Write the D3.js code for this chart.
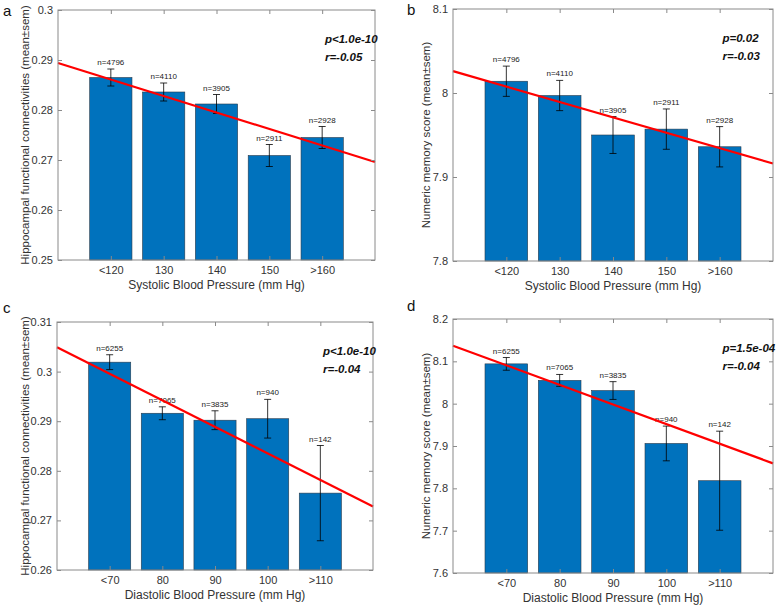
<!DOCTYPE html>
<html><head><meta charset="utf-8">
<script src="https://cdn.jsdelivr.net/npm/d3@7"></script>
<style>body{margin:0;background:#fff;}svg{display:block;font-family:Arial,"Liberation Sans",sans-serif;}</style>
</head><body>
<script>
// ---- data ----
const sysCats = ["<120","130","140","150",">160"];
const diaCats = ["<70","80","90","100",">110"];
const sysN = [4796,4110,3905,2911,2928];
const diaN = [6255,7065,3835,940,142];

const aMean = [0.2865,0.2836,0.2812,0.2709,0.2745];
const aSem  = [0.0017,0.0018,0.0019,0.0022,0.0022];
const aFit  = [0.2894,0.2696];           // fitted line at x=0 and x=6
const aTicks = [0.25,0.26,0.27,0.28,0.29,0.30];

const bMean = [8.014,7.997,7.950,7.957,7.936];
const bSem  = [0.018,0.018,0.022,0.024,0.024];
const bFit  = [8.026,7.916];
const bTicks = [7.8,7.9,8.0,8.1];

const cMean = [0.3019,0.2916,0.2902,0.2905,0.2755];
const cSem  = [0.0015,0.0013,0.0019,0.0039,0.0096];
const cFit  = [0.3049,0.2728];
const cTicks = [0.26,0.27,0.28,0.29,0.30,0.31];

const dMean = [8.094,8.055,8.031,7.906,7.818];
const dSem  = [0.015,0.014,0.021,0.041,0.117];
const dFit  = [8.137,7.859];
const dTicks = [7.6,7.7,7.8,7.9,8.0,8.1,8.2];

const panels = [
  {letter:"a", cats:sysCats, n:sysN, mean:aMean, sem:aSem, fit:aFit, ticks:aTicks, dom:[0.25,0.30],
   ylab:"Hippocampal functional connectivities (mean\u00B1sem)", xlab:"Systolic Blood Pressure (mm Hg)",
   p:"p<1.0e-10", r:"r=-0.05", box:[58,10,375,260], lx:3, ly:16, ylx:26},
  {letter:"b", cats:sysCats, n:sysN, mean:bMean, sem:bSem, fit:bFit, ticks:bTicks, dom:[7.8,8.1],
   ylab:"Numeric memory score (mean\u00B1sem)", xlab:"Systolic Blood Pressure (mm Hg)",
   p:"p=0.02", r:"r=-0.03", box:[453,9,773,261], lx:407, ly:15, ylx:427},
  {letter:"c", cats:diaCats, n:diaN, mean:cMean, sem:cSem, fit:cFit, ticks:cTicks, dom:[0.26,0.31],
   ylab:"Hippocampal functional connectivities (mean\u00B1sem)", xlab:"Diastolic Blood Pressure (mm Hg)",
   p:"p<1.0e-10", r:"r=-0.04", box:[57,322,373,570], lx:3, ly:313, ylx:26},
  {letter:"d", cats:diaCats, n:diaN, mean:dMean, sem:dSem, fit:dFit, ticks:dTicks, dom:[7.6,8.2],
   ylab:"Numeric memory score (mean\u00B1sem)", xlab:"Diastolic Blood Pressure (mm Hg)",
   p:"p=1.5e-04", r:"r=-0.04", box:[453,319,773,573], lx:407, ly:311, ylx:427}
];

const W=777,H=606;
const svg=d3.select("body").append("svg").attr("width",W).attr("height",H);
const fmt=v=>d3.format("")(+v.toFixed(3));

panels.forEach(P=>{
  const [x0,y0,x1,y1]=P.box;
  const x=d3.scaleLinear().domain([0,6]).range([x0,x1]);
  const y=d3.scaleLinear().domain(P.dom).range([y1,y0]);
  const g=svg.append("g");
  const bw=(x(1)-x(0))*0.8;
  const data=P.cats.map((c,i)=>({c,i:i+1,m:P.mean[i],s:P.sem[i],n:P.n[i]}));

  // bars
  g.selectAll("rect.bar").data(data).join("rect")
    .attr("x",d=>x(d.i)-bw/2).attr("width",bw)
    .attr("y",d=>y(d.m)).attr("height",d=>y(P.dom[0])-y(d.m))
    .attr("fill","#0072BD").attr("stroke","#2a3a4a").attr("stroke-width",0.6);

  // error bars
  const eb=g.selectAll("g.eb").data(data).join("g").attr("stroke","#000").attr("stroke-width",0.8);
  eb.append("line").attr("x1",d=>x(d.i)).attr("x2",d=>x(d.i)).attr("y1",d=>y(d.m+d.s)).attr("y2",d=>y(d.m-d.s));
  eb.append("line").attr("x1",d=>x(d.i)-3.5).attr("x2",d=>x(d.i)+3.5).attr("y1",d=>y(d.m+d.s)).attr("y2",d=>y(d.m+d.s));
  eb.append("line").attr("x1",d=>x(d.i)-3.5).attr("x2",d=>x(d.i)+3.5).attr("y1",d=>y(d.m-d.s)).attr("y2",d=>y(d.m-d.s));

  // n labels
  g.selectAll("text.n").data(data).join("text")
    .attr("x",d=>x(d.i)).attr("y",d=>y(d.m+d.s)-4)
    .attr("text-anchor","middle").attr("font-size",8).attr("fill","#222")
    .text(d=>"n="+d.n);

  // fit line
  g.append("line").attr("x1",x(0)).attr("x2",x(6)).attr("y1",y(P.fit[0])).attr("y2",y(P.fit[1]))
    .attr("stroke","#ff0000").attr("stroke-width",2.2);

  // axes frame
  const axCol="#8a8a8a";
  g.append("rect").attr("x",x0).attr("y",y0).attr("width",x1-x0).attr("height",y1-y0)
    .attr("fill","none").attr("stroke",axCol).attr("stroke-width",1);

  const xAx=d3.axisBottom(x).tickValues([1,2,3,4,5]).tickFormat(v=>P.cats[v-1]).tickSizeInner(-4).tickSizeOuter(0).tickPadding(6);
  const xa=g.append("g").attr("transform",`translate(0,${y1})`).call(xAx);
  const xTop=d3.axisTop(x).tickValues([1,2,3,4,5]).tickFormat("").tickSizeInner(-4).tickSizeOuter(0);
  const xt=g.append("g").attr("transform",`translate(0,${y0})`).call(xTop);
  const yAx=d3.axisLeft(y).tickValues(P.ticks).tickFormat(fmt).tickSizeInner(-4).tickSizeOuter(0).tickPadding(5);
  const ya=g.append("g").attr("transform",`translate(${x0},0)`).call(yAx);
  const yR=d3.axisRight(y).tickValues(P.ticks).tickFormat("").tickSizeInner(-4).tickSizeOuter(0);
  const yr=g.append("g").attr("transform",`translate(${x1},0)`).call(yR);
  [xa,xt,ya,yr].forEach(a=>{
    a.select(".domain").remove();
    a.selectAll(".tick line").attr("stroke",axCol);
    a.selectAll("text").attr("font-size",11).attr("fill","#333").attr("font-family","Arial,'Liberation Sans',sans-serif");
  });

  // axis labels
  g.append("text").attr("x",(x0+x1)/2).attr("y",y1+29).attr("text-anchor","middle")
    .attr("font-size",12).attr("fill","#333").text(P.xlab);
  g.append("text").attr("transform",`translate(${P.ylx},${(y0+y1)/2}) rotate(-90)`)
    .attr("text-anchor","middle").attr("dominant-baseline","middle")
    .attr("font-size",11.5).attr("fill","#333").text(P.ylab);

  // stats
  g.append("text").attr("x",x0+(x1-x0)*0.842).attr("y",y0+33).attr("font-size",11.5)
    .attr("font-weight","bold").attr("font-style","italic").attr("fill","#111").text(P.p);
  g.append("text").attr("x",x0+(x1-x0)*0.842).attr("y",y0+51).attr("font-size",11.5)
    .attr("font-weight","bold").attr("font-style","italic").attr("fill","#111").text(P.r);

  // letter
  svg.append("text").attr("x",P.lx).attr("y",P.ly).attr("font-size",15).attr("fill","#111").text(P.letter);
});
</script>
</body></html>
